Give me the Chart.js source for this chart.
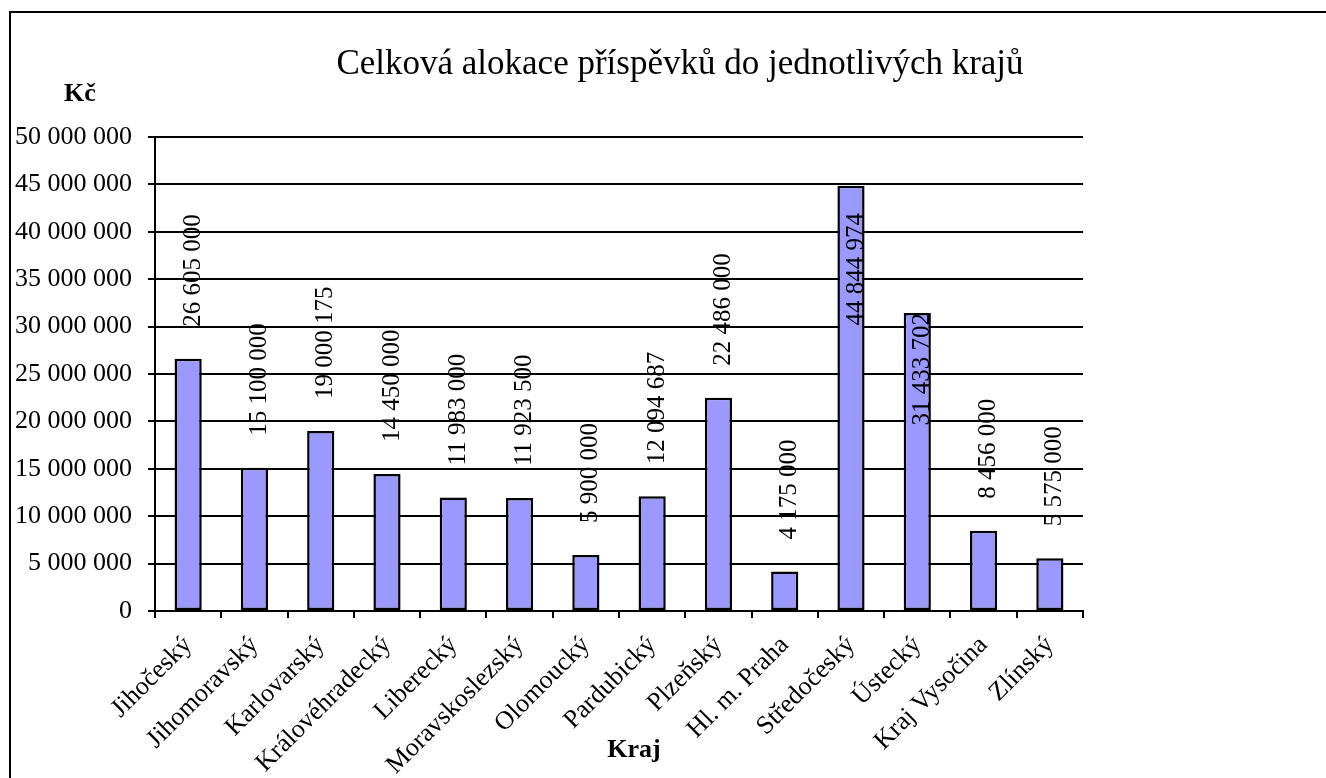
<!DOCTYPE html>
<html>
<head>
<meta charset="utf-8">
<script src="https://cdn.jsdelivr.net/npm/chart.js@4/dist/chart.umd.min.js"></script>
<style>
  html, body { margin: 0; padding: 0; background: #fff; overflow: hidden; }
  #wrap { position: relative; width: 1326px; height: 778px; }
  #frame { position: absolute; left: 9px; top: 11px; width: 1400px; height: 900px;
           border: 2px solid #000; pointer-events: none; }
</style>
</head>
<body>
<div id="wrap">
  <canvas id="myChart" width="1326" height="778"></canvas>
  <div id="frame"></div>
</div>
<script>
// chart data
var regions = ['Jihočeský', 'Jihomoravský', 'Karlovarský', 'Královéhradecký', 'Liberecký',
    'Moravskoslezský', 'Olomoucký', 'Pardubický', 'Plzeňský', 'Hl. m. Praha',
    'Středočeský', 'Ústecký', 'Kraj Vysočina', 'Zlínský'];
var allocation = [26605000, 15100000, 19000175, 14450000, 11983000,
    11923500, 5900000, 12094687, 22486000, 4175000,
    44844974, 31433702, 8456000, 5575000];

var chartTitle = 'Celková alokace příspěvků do jednotlivých krajů';
var yTitle = 'Kč';
var xTitle = 'Kraj';

var SERIF = "'Liberation Serif', 'Times New Roman', serif";

// 50000000 -> "50 000 000"
function fmt(v) {
    return String(v).replace(/\B(?=(\d{3})+(?!\d))/g, ' ');
}

// vertical value labels above the bars (pushed inside when there is no room)
var barLabels = {
    id: 'barLabels',
    afterDatasetsDraw: function (chart) {
        var ctx = chart.ctx;
        var area = chart.chartArea;
        var meta = chart.getDatasetMeta(0);
        ctx.save();
        ctx.font = '25px ' + SERIF;
        ctx.fillStyle = '#000';
        ctx.textAlign = 'left';
        ctx.textBaseline = 'middle';
        meta.data.forEach(function (bar, i) {
            var text = fmt(allocation[i]);
            var w = ctx.measureText(text).width;
            var bottom = bar.y - 32;
            if (bottom - w < area.top + 40) {
                var top = Math.max(bar.y, area.top + 76);
                bottom = top + w;
            }
            ctx.save();
            ctx.translate(bar.x + 5, bottom);
            ctx.rotate(-Math.PI / 2);
            ctx.fillText(text, 0, 0);
            ctx.restore();
        });
        ctx.restore();
    }
};

// title and the two axis captions
var captions = {
    id: 'captions',
    afterDraw: function (chart) {
        var ctx = chart.ctx;
        ctx.save();
        ctx.fillStyle = '#000';
        ctx.textAlign = 'center';
        ctx.textBaseline = 'alphabetic';
        ctx.font = '35px ' + SERIF;
        ctx.fillText(chartTitle, 680, 74);
        ctx.font = 'bold 26px ' + SERIF;
        ctx.fillText(yTitle, 80, 101);
        ctx.fillText(xTitle, 634, 757);
        ctx.restore();
    }
};

new Chart(document.querySelector('#myChart'), {
    type: 'bar',
    data: {
        labels: regions,
        datasets: [{
            data: allocation,
            backgroundColor: '#9999FF',
            borderColor: '#000',
            borderWidth: 2.5,
            borderSkipped: false,
            barPercentage: 0.41,
            categoryPercentage: 1
        }]
    },
    options: {
        responsive: false,
        animation: false,
        layout: {
            padding: { top: 137, right: 243, bottom: 0, left: 0 }
        },
        plugins: {
            legend: { display: false },
            title: { display: false },
            tooltip: { enabled: false }
        },
        scales: {
            x: {
                afterFit: function (scale) { scale.height = 167; },
                grid: {
                    offset: true,
                    drawOnChartArea: false,
                    color: '#000',
                    lineWidth: 2,
                    tickLength: 7
                },
                border: { color: '#000', width: 2 },
                ticks: {
                    color: '#000',
                    font: { family: SERIF, size: 26 },
                    minRotation: 45,
                    maxRotation: 45,
                    autoSkip: false,
                    padding: 12
                }
            },
            y: {
                min: 0,
                max: 50000000,
                afterFit: function (scale) { scale.width = 155; },
                grid: {
                    color: '#000',
                    lineWidth: 2,
                    tickLength: 7
                },
                border: { color: '#000', width: 2 },
                ticks: {
                    stepSize: 5000000,
                    color: '#000',
                    font: { family: SERIF, size: 26 },
                    padding: 16,
                    callback: function (v) { return fmt(v); }
                }
            }
        }
    },
    plugins: [barLabels, captions]
});
</script>
</body>
</html>
